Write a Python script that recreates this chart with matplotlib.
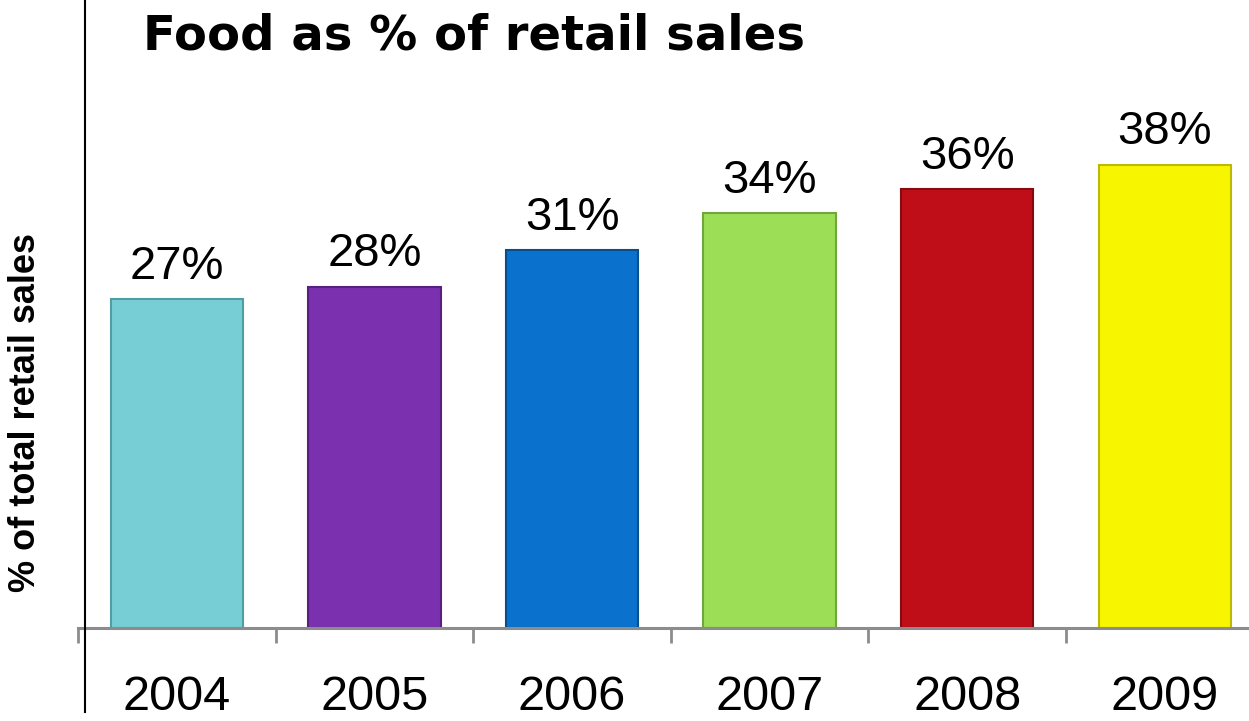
import matplotlib
matplotlib.use("Agg")
import matplotlib.pyplot as plt
from matplotlib.lines import Line2D

# food share of retail sales, per year
years = ["2004", "2005", "2006", "2007", "2008", "2009"]
share = [27, 28, 31, 34, 36, 38]
labels = ["27%", "28%", "31%", "34%", "36%", "38%"]
bar_colors = ["#77CFD5", "#7B30B0", "#0A72CC", "#9CDE55", "#C00E18", "#F8F500"]
edge_colors = ["#4E9EA4", "#55207E", "#064E8C", "#6FA83A", "#860A10", "#BDB800"]

plt.rcParams["font.family"] = ["Liberation Sans", "DejaVu Sans"]

W, H = 1249, 721
fig = plt.figure(figsize=(W / 100, H / 100), dpi=100, facecolor="white")

# axes run past the right edge, like the slide crop
left = 78 / W
bottom = (H - 628) / H
ax = fig.add_axes([left, bottom, 6 * 197.6 / W, 628 / H])

x = list(range(len(years)))
ax.bar(x, share, width=0.67, color=bar_colors, edgecolor=edge_colors,
       linewidth=1.5, zorder=2)

for xi, v, lab in zip(x, share, labels):
    ax.annotate(lab, (xi, v), xytext=(0, 14.5), textcoords="offset points",
                ha="center", va="baseline", fontsize=34, color="black")

ax.set_xlim(-0.5, 5.5)
ax.set_ylim(0, 51.5)

for s in ("top", "right", "left"):
    ax.spines[s].set_visible(False)
ax.spines["bottom"].set_color("#8C8C8C")
ax.spines["bottom"].set_linewidth(2.2)
ax.set_yticks([])

# ticks between categories, year labels centred under bars
ax.set_xticks([i - 0.5 for i in range(7)])
ax.set_xticklabels([])
ax.tick_params(axis="x", which="major", length=11, width=2, color="#8C8C8C")
ax.set_xticks(x, minor=True)
ax.set_xticklabels(years, minor=True, fontsize=35)
ax.tick_params(axis="x", which="minor", length=0, pad=34)

# vertical rule at the left
fig.add_artist(Line2D([85 / W, 85 / W], [1 - 712 / H, 1.0],
                      transform=fig.transFigure, color="black", linewidth=1.5))

fig.text(143 / W, 1 - 50 / H, "Food as % of retail sales", fontsize=34.7,
         fontweight="bold", ha="left", va="baseline",
         family=["DejaVu Sans"])
fig.text(26 / W, 1 - 413 / H, "% of total retail sales", fontsize=26,
         fontweight="bold", rotation=90, ha="center", va="center")

fig.savefig("out.png", dpi=100, facecolor="white")
